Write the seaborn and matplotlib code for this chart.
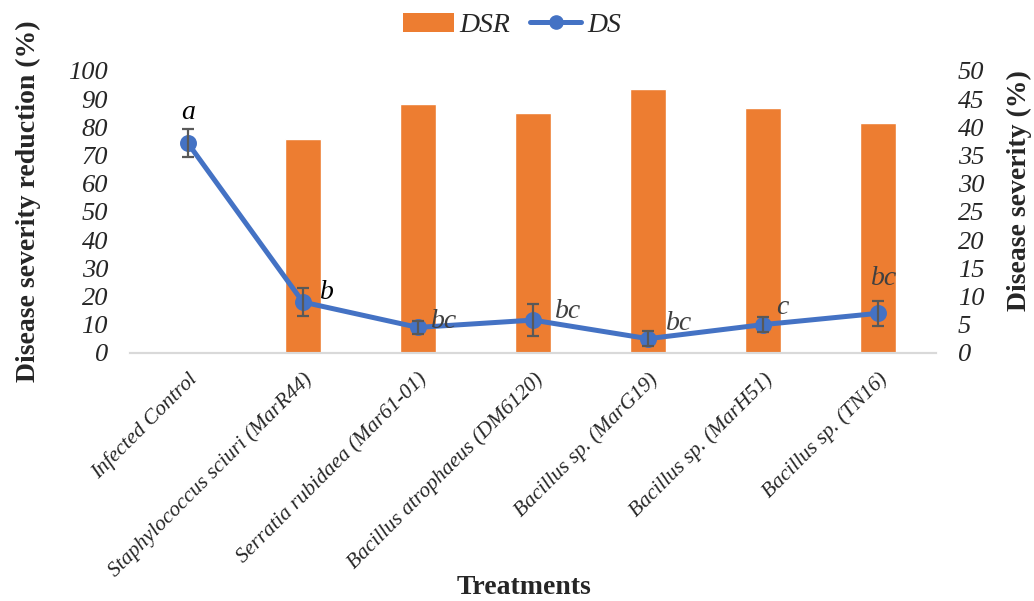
import numpy as np
import pandas as pd
import matplotlib
matplotlib.use("Agg")
import matplotlib.pyplot as plt
import seaborn as sns
from matplotlib.patches import Patch
from matplotlib.lines import Line2D

treatments = ["Infected Control", "Staphylococcus sciuri (MarR44)", "Serratia rubidaea (Mar61-01)",
              "Bacillus atrophaeus (DM6120)", "Bacillus sp. (MarG19)", "Bacillus sp. (MarH51)",
              "Bacillus sp. (TN16)"]
dsr = [0, 75.9, 88.3, 85.0, 93.6, 86.8, 81.4]
ds = [37.2, 9.0, 4.5, 5.8, 2.5, 5.0, 7.0]
ds_err = [2.5, 2.5, 1.2, 2.8, 1.3, 1.4, 2.2]
letters = ["a", "b", "bc", "bc", "bc", "c", "bc"]
left_ticks = list(range(0, 101, 10))
right_ticks = list(range(0, 51, 5))

df = pd.DataFrame({"Treatment": treatments, "DSR": dsr, "DS": ds, "err": ds_err})

sns.set_theme(style="white")
plt.rcParams["font.family"] = ["Liberation Serif", "DejaVu Serif"]

ORANGE = "#ED7D31"
BLUE = "#4472C4"

fig = plt.figure(figsize=(10.34, 6.01), dpi=100)
ax = fig.add_axes([0.126, 0.413, 0.779, 0.469])
sns.barplot(data=df, x="Treatment", y="DSR", color=ORANGE, width=0.31, saturation=1, ax=ax)
ax.set_ylim(0, 100)
ax.set_yticks(left_ticks)
ax.set_yticklabels([str(t) for t in left_ticks], fontsize=19, fontstyle="italic")
ax.set_xlim(-0.5, len(treatments) - 0.5)

ax2 = ax.twinx()
sns.pointplot(data=df, x="Treatment", y="DS", color=BLUE, errorbar=None, markers="o",
              markersize=9.5, linewidth=3.6, ax=ax2)
ax2.errorbar(np.arange(len(treatments)), df["DS"], yerr=df["err"], fmt="none",
             ecolor="#595959", elinewidth=1.6, capsize=4.5, capthick=1.6, zorder=5)
ax2.set_ylim(0, 50)
ax2.set_yticks(right_ticks)
ax2.set_yticklabels([str(t) for t in right_ticks], fontsize=19, fontstyle="italic")
ax2.set_xlim(-0.5, len(treatments) - 0.5)

offsets = [(0, 22), (17, 7), (19, 4), (25, 6), (22, 11), (14, 12), (4, 25)]
colors = ["black", "black", "#404040", "#404040", "#404040", "#404040", "#404040"]
for i, (lt, off, c) in enumerate(zip(letters, offsets, colors)):
    ax2.annotate(lt, (i, ds[i]), xytext=off, textcoords="offset points",
                 ha="center", va="center", fontsize=20, fontstyle="italic", color=c)

for a in (ax, ax2):
    for s in ("top", "left", "right"):
        a.spines[s].set_visible(False)
    a.spines["bottom"].set_color("#d9d9d9")
    a.spines["bottom"].set_linewidth(1.5)
    a.tick_params(axis="both", length=0)
    a.grid(False)
ax.tick_params(axis="y", pad=16)
ax2.tick_params(axis="y", pad=16)

ax.set_xticks(range(len(treatments)))
ax.set_xticklabels(treatments, rotation=45, ha="right", rotation_mode="anchor",
                   fontsize=15.5, fontstyle="italic")
ax.tick_params(axis="x", pad=12)
ax.set_xlabel("Treatments", fontsize=20, fontweight="bold")
ax.xaxis.set_label_coords(0.489, -0.833)
ax.xaxis.label.set_va("center")
ax.set_ylabel("Disease severity reduction (%)", fontsize=20, fontweight="bold")
ax.yaxis.set_label_coords(-0.127, 0.539)
ax.yaxis.label.set_va("center")
ax2.set_ylabel("Disease severity (%)", fontsize=20, fontweight="bold")
ax2.yaxis.set_label_coords(1.104, 0.574)
ax2.yaxis.label.set_va("center")
ax2.set_xlabel("")

handles = [Patch(facecolor=ORANGE, edgecolor="none"),
           Line2D([0], [0], color=BLUE, lw=3.6, marker="o", markersize=9.5)]
fig.legend(handles, ["DSR", "DS"], loc="center", bbox_to_anchor=(0.495, 0.958), ncol=2,
           frameon=False, prop={"style": "italic", "size": 20}, handlelength=1.85,
           columnspacing=0.7, handletextpad=0.2)

fig.savefig("out.png", dpi=100)
